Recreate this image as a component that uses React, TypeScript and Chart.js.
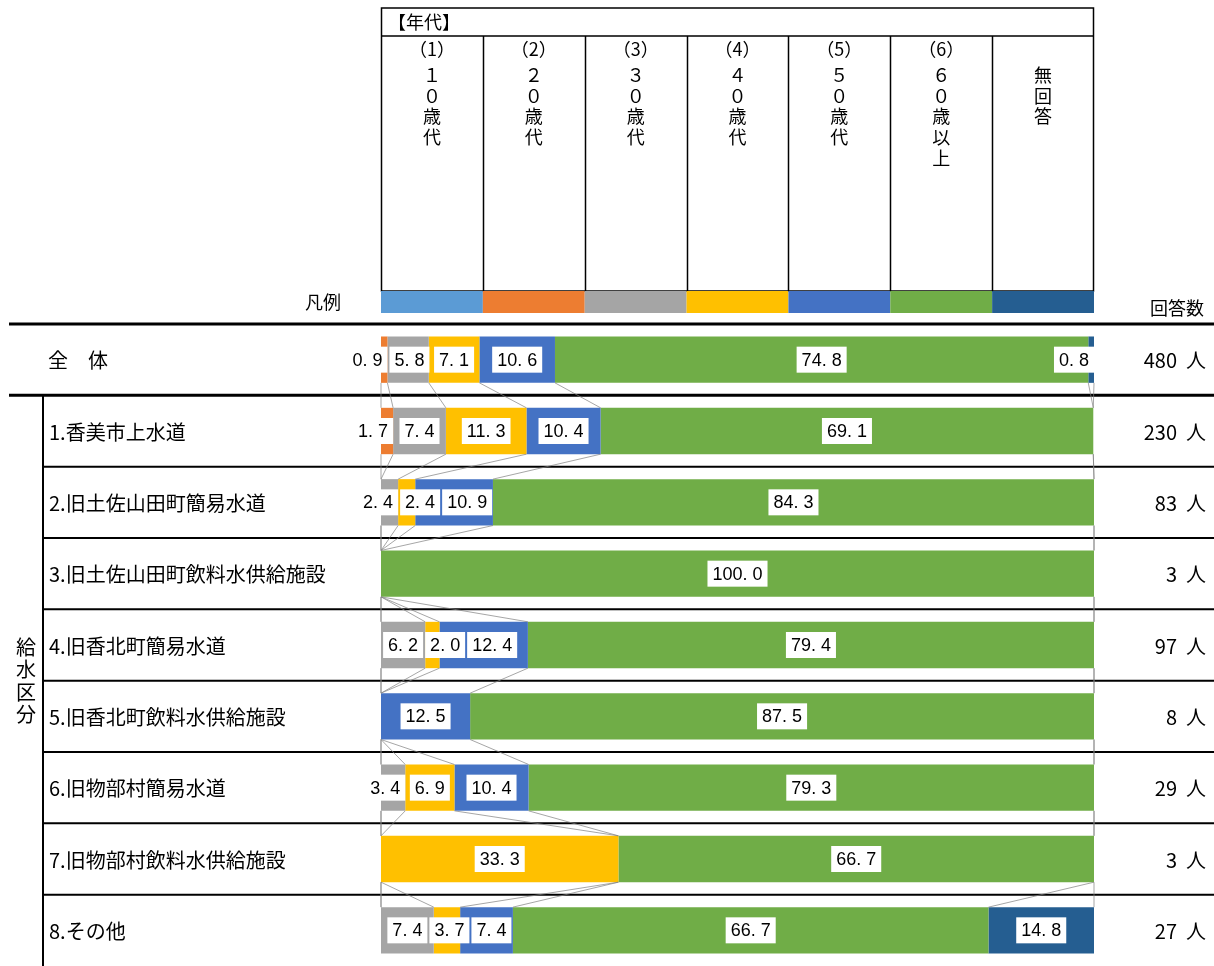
import React, { useEffect, useRef } from "react";
import { Chart, registerables } from "chart.js";
Chart.register(...registerables);

const categories = [
  "全　体",
  "1.香美市上水道",
  "2.旧土佐山田町簡易水道",
  "3.旧土佐山田町飲料水供給施設",
  "4.旧香北町簡易水道",
  "5.旧香北町飲料水供給施設",
  "6.旧物部村簡易水道",
  "7.旧物部村飲料水供給施設",
  "8.その他",
];
const respondents = [480, 230, 83, 3, 97, 8, 29, 3, 27];

const seriesNames = ["(1)10歳代", "(2)20歳代", "(3)30歳代", "(4)40歳代", "(5)50歳代", "(6)60歳以上", "無回答"];
const age10s = [0, 0, 0, 0, 0, 0, 0, 0, 0];
const age20s = [0.9, 1.7, 0, 0, 0, 0, 0, 0, 0];
const age30s = [5.8, 7.4, 2.4, 0, 6.2, 0, 3.4, 0, 7.4];
const age40s = [7.1, 11.3, 2.4, 0, 2.0, 0, 6.9, 33.3, 3.7];
const age50s = [10.6, 10.4, 10.9, 0, 12.4, 12.5, 10.4, 0, 7.4];
const age60plus = [74.8, 69.1, 84.3, 100.0, 79.4, 87.5, 79.3, 66.7, 66.7];
const noAnswer = [0.8, 0, 0, 0, 0, 0, 0, 0, 14.8];

const colors = ["#5B9BD5", "#ED7D31", "#A5A5A5", "#FFC000", "#4472C4", "#70AD47", "#255E91"];

const legendHeaderTitle = "【年代】";
const legendColumns = [
  ["（1）", "１", "０", "歳", "代"],
  ["（2）", "２", "０", "歳", "代"],
  ["（3）", "３", "０", "歳", "代"],
  ["（4）", "４", "０", "歳", "代"],
  ["（5）", "５", "０", "歳", "代"],
  ["（6）", "６", "０", "歳", "以", "上"],
  ["", "無", "回", "答"],
];
const legendLabel = "凡例";
const countHeader = "回答数";
const groupLabel = ["給", "水", "区", "分"];
const countUnit = "人";

const JP = '"Noto Sans CJK JP", "Noto Sans", sans-serif';
const NUM = '"Liberation Sans Narrow", "Liberation Sans", sans-serif';

const overlayPlugin = {
  id: "overlay",
  afterDraw(chart: any) {
    const ctx: CanvasRenderingContext2D = chart.ctx;
    const area = chart.chartArea;
    const xs = chart.scales.x;
    const n = categories.length;
    const catH = (area.bottom - area.top) / n;
    const W = chart.width;

    ctx.save();
    // ---------- header / legend table ----------
    const left = xs.getPixelForValue(0);
    const right = xs.getPixelForValue(100);
    const colW = (right - left) / legendColumns.length;
    const topY = 8;
    const titleBottom = 36;
    const colBottom = 291;
    const swatchBottom = 313;
    ctx.strokeStyle = "#000";
    ctx.lineWidth = 1.5;
    ctx.strokeRect(left + 0.5, topY, right - left - 1, colBottom - topY);
    ctx.beginPath();
    ctx.moveTo(left, titleBottom);
    ctx.lineTo(right, titleBottom);
    for (let k = 1; k < legendColumns.length; k++) {
      const x = Math.round(left + colW * k) + 0.5;
      ctx.moveTo(x, titleBottom);
      ctx.lineTo(x, colBottom);
    }
    ctx.stroke();
    ctx.fillStyle = "#000";
    ctx.font = `18px ${JP}`;
    ctx.textAlign = "left";
    ctx.textBaseline = "middle";
    ctx.fillText(legendHeaderTitle, 388, 22);
    ctx.font = `18px ${JP}`;
    ctx.textAlign = "center";
    legendColumns.forEach((lines, k) => {
      const cx = left + colW * (k + 0.5);
      lines.forEach((t, j) => {
        if (!t) return;
        const y = j === 0 ? 49 : 75 + (j - 1) * 20.7;
        ctx.fillText(t, cx, y);
      });
      ctx.fillStyle = colors[k];
      ctx.fillRect(left + colW * k, colBottom, colW, swatchBottom - colBottom);
      ctx.fillStyle = "#000";
    });

    ctx.font = `18px ${JP}`;
    ctx.textAlign = "right";
    ctx.fillText(legendLabel, 341, 302);
    ctx.fillText(countHeader, 1204, 308);

    // ---------- row separators ----------
    const sep = (i: number) => area.top + catH * i;
    ctx.strokeStyle = "#000";
    ctx.lineWidth = 3;
    ctx.beginPath();
    ctx.moveTo(9, sep(0));
    ctx.lineTo(W, sep(0));
    ctx.moveTo(9, sep(1));
    ctx.lineTo(W, sep(1));
    ctx.stroke();
    ctx.lineWidth = 2;
    ctx.beginPath();
    for (let i = 2; i < n; i++) {
      ctx.moveTo(42, sep(i));
      ctx.lineTo(W, sep(i));
    }
    ctx.moveTo(43, sep(1));
    ctx.lineTo(43, chart.height);
    ctx.stroke();

    // ---------- series lines ----------
    const metas = chart.data.datasets.map((_: any, d: number) => chart.getDatasetMeta(d));
    ctx.strokeStyle = "#808080";
    ctx.lineWidth = 0.7;
    ctx.beginPath();
    for (let i = 0; i < n - 1; i++) {
      metas.forEach((m: any) => {
        const a = m.data[i].getProps(["x", "y", "height"], true);
        const b = m.data[i + 1].getProps(["x", "y", "height"], true);
        ctx.moveTo(a.x, a.y + a.height / 2);
        ctx.lineTo(b.x, b.y - b.height / 2);
      });
    }
    ctx.stroke();

    // ---------- data labels ----------
    ctx.font = `18px ${NUM}`;
    ctx.textAlign = "center";
    ctx.textBaseline = "middle";
    const ds = chart.data.datasets;
    for (let i = 0; i < n; i++) {
      const nz: number[] = [];
      ds.forEach((s: any, d: number) => {
        if (s.data[i] > 0) nz.push(d);
      });
      let lastRight = -Infinity;
      nz.forEach((d, idx) => {
        const v = ds[d].data[i];
        const el = metas[d].data[i].getProps(["x", "y", "base"], true);
        const s0 = Math.min(el.x, el.base);
        const s1 = Math.max(el.x, el.base);
        const txt = v.toFixed(1).replace(".", ". ");
        const tw = ctx.measureText(txt).width;
        const bw = tw + 10;
        const bh = 26;
        let bx = (s0 + s1) / 2 - bw / 2;
        const isEdge = idx === 0 || idx === nz.length - 1;
        if (isEdge && bw > s1 - s0 && bx + bw > s1) bx = s1 - bw;
        const gap = 2;
        if (bx < lastRight + gap) bx = lastRight + gap;
        lastRight = bx + bw;
        ctx.fillStyle = "#fff";
        ctx.fillRect(bx, el.y - bh / 2, bw, bh);
        ctx.fillStyle = "#000";
        ctx.fillText(txt, bx + bw / 2, el.y + 1);
      });
    }

    // ---------- category labels ----------
    ctx.font = `20px ${JP}`;
    ctx.textAlign = "left";
    ctx.fillStyle = "#000";
    for (let i = 0; i < n; i++) {
      const cy = area.top + catH * (i + 0.5);
      ctx.fillText(categories[i], i === 0 ? 48 : 49, cy + 1);
    }
    ctx.textAlign = "right";
    for (let i = 0; i < n; i++) {
      const cy = area.top + catH * (i + 0.5);
      ctx.fillText(`${respondents[i]}  ${countUnit}`, 1206, cy + 1);
    }
    ctx.textAlign = "center";
    const gc = (sep(1) + area.bottom) / 2;
    groupLabel.forEach((t, j) => {
      ctx.fillText(t, 26, gc + (j - (groupLabel.length - 1) / 2) * 22.5);
    });
    ctx.restore();
  },
};

export default function App() {
  const ref = useRef<HTMLCanvasElement | null>(null);
  useEffect(() => {
    if (!ref.current) return;
    const series = [age10s, age20s, age30s, age40s, age50s, age60plus, noAnswer];
    const chart = new Chart(ref.current, {
      type: "bar",
      data: {
        labels: categories,
        datasets: series.map((data, d) => ({
          label: seriesNames[d],
          data,
          backgroundColor: colors[d],
          borderWidth: 0,
          barPercentage: 0.65,
          categoryPercentage: 1,
        })),
      },
      options: {
        indexAxis: "y",
        responsive: false,
        animation: false,
        layout: { padding: { left: 381, right: 120, top: 324, bottom: 0 } },
        scales: {
          x: { stacked: true, min: 0, max: 100, display: false },
          y: { stacked: true, display: false },
        },
        plugins: { legend: { display: false }, tooltip: { enabled: false } },
      },
      plugins: [overlayPlugin],
    });
    return () => chart.destroy();
  }, []);
  return (
    <div style={{ position: "absolute", left: 0, top: 0, width: 1214, height: 966, background: "#fff" }}>
      <canvas ref={ref} width={1214} height={966} style={{ width: 1214, height: 966 }} />
    </div>
  );
}
